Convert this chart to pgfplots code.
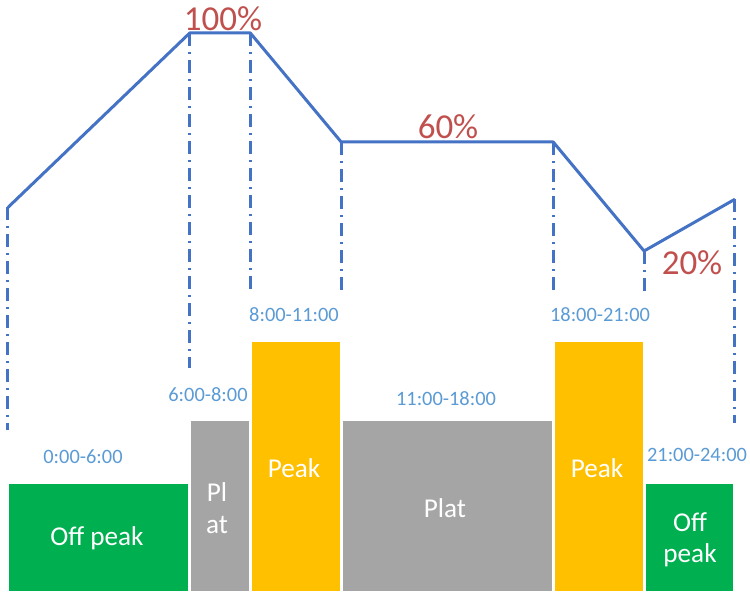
\documentclass[border=0pt]{standalone}
\usepackage{pgfplots}
\pgfplotsset{compat=1.18}
\usepackage{fontspec}
\setmainfont{Carlito}
\definecolor{lineblue}{RGB}{68,114,196}
\definecolor{pctred}{RGB}{192,80,77}
\definecolor{lblblue}{RGB}{91,155,213}
\definecolor{offgreen}{RGB}{0,176,80}
\definecolor{platgray}{RGB}{165,165,165}
\definecolor{peakyellow}{RGB}{255,192,0}
\begin{document}
\begin{tikzpicture}
\path[use as bounding box] (0,0) rectangle (375pt,297pt);
% bars
\begin{axis}[at={(0,0)}, anchor=south west, scale only axis, width=375pt, height=297pt,
  hide axis, xmin=-0.264, xmax=24.497, ymin=-0.4, ymax=235.3, clip=false]
\addplot[ybar interval, fill=offgreen, draw=white, line width=1.5pt] coordinates {(0,43.7) (6,43.7)};
\addplot[ybar interval, fill=platgray, draw=white, line width=1.5pt] coordinates {(6,69) (8,69)};
\addplot[ybar interval, fill=peakyellow, draw=white, line width=1.5pt] coordinates {(8,100) (11,100)};
\addplot[ybar interval, fill=platgray, draw=white, line width=1.5pt] coordinates {(11,69) (18,69)};
\addplot[ybar interval, fill=peakyellow, draw=white, line width=1.5pt] coordinates {(18,100) (21,100)};
\addplot[ybar interval, fill=offgreen, draw=white, line width=1.5pt] coordinates {(21,43.7) (24,43.7)};
\end{axis}
% load line
\begin{axis}[at={(0,0)}, anchor=south west, scale only axis, width=375pt, height=297pt,
  hide axis, xmin=-0.264, xmax=24.497, ymin=-105.87, ymax=112.11, clip=false]
\addplot[lineblue, line width=1.5pt, line join=round] coordinates {(0,36) (6,100) (8,100) (11,60) (18,60) (21,20) (24,39)};
\pgfplotsset{vdash/.style={lineblue, line width=1.5pt, dash pattern=on 6.5pt off 3pt on 1pt off 3pt}}
\addplot[vdash] coordinates {(0,36) (0,-45.7)};
\addplot[vdash] coordinates {(6,100) (6,-22.9)};
\addplot[vdash] coordinates {(8,100) (8,3.9)};
\addplot[vdash] coordinates {(11,60) (11,3.9)};
\addplot[vdash] coordinates {(18,60) (18,3.9)};
\addplot[vdash] coordinates {(21,20) (21,3.9)};
\addplot[vdash] coordinates {(24,39) (24,-43.1)};
\end{axis}
\begin{scope}[x=0.5pt, y=-0.5pt, yshift=297pt]
\tikzset{every node/.style={inner sep=0pt, anchor=center}}
\node[pctred, font=\fontsize{17.5}{20}\selectfont] at (223,19) {100\%};
\node[pctred, font=\fontsize{17.5}{20}\selectfont] at (448,127) {60\%};
\node[pctred, font=\fontsize{17.5}{20}\selectfont] at (692,263) {20\%};
\begin{scope}[every node/.append style={lblblue, font=\fontsize{10.2}{12}\selectfont}]
\node at (83,457) {0:00-6:00};
\node at (208,395) {6:00-8:00};
\node at (294,315) {8:00-11:00};
\node at (446,399) {11:00-18:00};
\node at (600,315) {18:00-21:00};
\node at (697,455) {21:00-24:00};
\end{scope}
\begin{scope}[every node/.append style={white, font=\fontsize{13.6}{16}\selectfont}]
\node at (97,538) {Off peak};
\node at (217,492) {Pl};
\node at (217,525) {at};
\node at (294,468) {Peak};
\node at (445,508) {Plat};
\node at (597,468) {Peak};
\node at (690,522) {Off};
\node at (690,555) {peak};
\end{scope}
\end{scope}
\end{tikzpicture}
\end{document}
